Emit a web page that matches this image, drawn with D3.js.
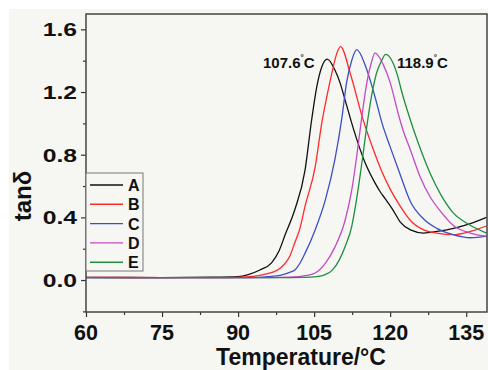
<!DOCTYPE html>
<html>
<head>
<meta charset="utf-8">
<script src="https://cdn.jsdelivr.net/npm/d3@7"></script>
<style>
  body { margin: 0; background: #fff; }
  svg { display: block; font-family: "Liberation Sans", Arial, sans-serif; font-weight: bold; }
</style>
</head>
<body>
<div id="chart"></div>
<script>
// tan delta vs temperature
const seriesNames = ["A", "B", "C", "D", "E"];
const seriesColors = ["#111111", "#ff2a2a", "#3c4fc6", "#c24bc4", "#1f8f3e"];

const curveA = [[60, 0.017], [75, 0.016], [85, 0.018], [90, 0.022], [92, 0.035], [94.3, 0.064], [96.6, 0.11],
  [98, 0.18], [99.3, 0.29], [101.2, 0.45], [103.2, 0.7], [104.5, 1.02], [105.5, 1.23], [106.5, 1.36],
  [107.6, 1.41], [109.1, 1.34], [110.1, 1.26], [111.1, 1.15], [112.8, 0.96], [115.1, 0.745], [117, 0.62],
  [118, 0.565], [119, 0.52], [120.5, 0.45], [122, 0.37], [124, 0.32], [126.6, 0.3], [129.2, 0.31],
  [132.5, 0.33], [135.8, 0.36], [139, 0.4]];
const curveB = [[60, 0.017], [75, 0.016], [88, 0.016], [91.6, 0.02], [94, 0.028], [96.3, 0.045], [98.3, 0.075],
  [100.3, 0.16], [101.2, 0.24], [102.2, 0.33], [103.2, 0.47], [105.2, 0.72], [106.5, 1.0], [107.5, 1.17],
  [108.5, 1.32], [109.5, 1.45], [110.2, 1.49], [112.2, 1.31], [114.5, 1.04], [116.6, 0.84], [118.4, 0.69],
  [120, 0.58], [122, 0.47], [124, 0.38], [126.6, 0.32], [129.2, 0.3], [132.4, 0.29], [135.8, 0.31], [139, 0.345]];
const curveC = [[60, 0.016], [80, 0.015], [92, 0.016], [96, 0.022], [98.3, 0.03], [100.3, 0.05], [101.2, 0.064],
  [102.2, 0.107], [103.2, 0.17], [105.2, 0.32], [107.2, 0.51], [109.1, 0.77], [110.5, 1.04], [111.4, 1.26],
  [112.4, 1.4], [113.4, 1.47], [115.2, 1.36], [117, 1.17], [118.5, 0.99], [120, 0.85], [122, 0.67],
  [124, 0.5], [126.6, 0.39], [129.2, 0.33], [132.4, 0.29], [135.8, 0.27], [139, 0.28]];
const curveD = [[60, 0.016], [80, 0.015], [96, 0.015], [100, 0.018], [103.6, 0.03], [105.2, 0.045], [107.2, 0.107],
  [109.1, 0.21], [111.1, 0.38], [112.4, 0.57], [113.4, 0.79], [114.4, 1.04], [115.4, 1.26], [116.4, 1.4],
  [117, 1.45], [118.7, 1.37], [120, 1.26], [121.6, 1.06], [122.6, 0.95], [124, 0.83], [125.9, 0.66],
  [127.9, 0.53], [129.9, 0.44], [132.4, 0.35], [135.8, 0.3], [139, 0.28]];
const curveE = [[60, 0.016], [80, 0.015], [98, 0.015], [103, 0.017], [105.5, 0.022], [107.2, 0.035], [108.5, 0.06],
  [110, 0.13], [111.2, 0.22], [112.4, 0.34], [113.3, 0.5], [114.3, 0.72], [115.3, 0.96], [116.3, 1.17],
  [117.3, 1.32], [118.3, 1.4], [119.1, 1.44], [120.5, 1.39], [121.5, 1.3], [122.3, 1.2], [124, 1.02],
  [125.7, 0.86], [127.9, 0.68], [129.9, 0.55], [132.4, 0.43], [135.8, 0.35], [139, 0.3]];
const curves = [curveA, curveB, curveC, curveD, curveE];

const xTicks = [60, 75, 90, 105, 120, 135];
const xMinor = [67.5, 82.5, 97.5, 112.5, 127.5];
const yTicks = [0.0, 0.4, 0.8, 1.2, 1.6];
const yMinor = [-0.2, 0.2, 0.6, 1.0, 1.4];
const peakLabels = [{ text: "107.6", side: "left" }, { text: "118.9", side: "right" }];

const width = 488, height = 370;
const margin = { top: 14, right: 1, bottom: 58, left: 86 };

const svg = d3.select("#chart").append("svg")
  .attr("width", width).attr("height", height);

svg.append("rect").attr("x", 9).attr("y", 9).attr("width", width - 9).attr("height", height - 9)
  .attr("fill", "#f6f6f3");

const x = d3.scaleLinear().domain([60, 139.1]).range([margin.left, width - margin.right]);
const y = d3.scaleLinear().domain([-0.204, 1.698]).range([height - margin.bottom, margin.top]);

// minor + major ticks
const gx = svg.append("g").attr("transform", `translate(0,${y.range()[0]})`);
gx.call(d3.axisBottom(x).tickValues(xTicks).tickSize(5).tickFormat(""));
gx.append("g").call(d3.axisBottom(x).tickValues(xMinor).tickSize(3).tickFormat(""));
const gy = svg.append("g").attr("transform", `translate(${x.range()[0]},0)`);
gy.call(d3.axisLeft(y).tickValues(yTicks).tickSize(5).tickFormat(""));
gy.append("g").call(d3.axisLeft(y).tickValues(yMinor).tickSize(3).tickFormat(""));
svg.selectAll(".domain").remove();
svg.selectAll(".tick line").attr("stroke", "#333").attr("stroke-width", 1.2);

// tick labels (y ones stretched a bit horizontally like the source image)
svg.append("g").selectAll("text").data(xTicks).join("text")
  .attr("x", d => x(d)).attr("y", 339.5)
  .attr("text-anchor", "middle").attr("font-size", 21.5).attr("fill", "#111")
  .text(d => d);
svg.append("g").selectAll("text").data(yTicks).join("text")
  .attr("text-anchor", "end").attr("font-size", 19).attr("fill", "#111")
  .attr("transform", d => `translate(77,${y(d) + 7}) scale(1.3,1)`)
  .text(d => d.toFixed(1));

// axis titles
svg.append("text").attr("x", 301).attr("y", 365).attr("text-anchor", "middle")
  .attr("font-size", 23).attr("fill", "#111").text("Temperature/°C");
svg.append("text").attr("transform", "translate(31,196) rotate(-90)").attr("text-anchor", "middle")
  .attr("font-size", 24).attr("fill", "#111").text("tanδ");

// curves
const line = d3.line().x(d => x(d[0])).y(d => y(d[1])).curve(d3.curveMonotoneX);
svg.append("clipPath").attr("id", "plot-clip").append("rect")
  .attr("x", x.range()[0]).attr("y", y.range()[1])
  .attr("width", x.range()[1] - x.range()[0]).attr("height", y.range()[0] - y.range()[1]);
svg.append("g").attr("clip-path", "url(#plot-clip)")
  .selectAll("path").data(curves).join("path")
  .attr("d", line).attr("fill", "none")
  .attr("stroke", (d, i) => seriesColors[i]).attr("stroke-width", 1.3)
  .attr("stroke-linejoin", "round");

// frame
svg.append("rect").attr("x", x.range()[0]).attr("y", y.range()[1])
  .attr("width", x.range()[1] - x.range()[0]).attr("height", y.range()[0] - y.range()[1])
  .attr("fill", "none").attr("stroke", "#444").attr("stroke-width", 1.5);

// peak annotations
const ann = svg.append("g").selectAll("text").data(peakLabels).join("text")
  .attr("x", d => d.side === "left" ? 263 : 397).attr("y", 68)
  .attr("font-size", 15).attr("fill", "#111");
ann.append("tspan").text(d => d.text);
ann.append("tspan").attr("font-size", 8).attr("dy", -8).text("°");
ann.append("tspan").attr("dy", 8).text("C");

// legend
const legend = svg.append("g");
legend.append("rect").attr("x", 86).attr("y", 173).attr("width", 57).attr("height", 98)
  .attr("fill", "#f6f6f3").attr("stroke", "#777").attr("stroke-width", 1);
const items = legend.selectAll("g.item").data(seriesNames).join("g")
  .attr("class", "item")
  .attr("transform", (d, i) => `translate(0,${185 + i * 19.3})`);
items.append("line").attr("x1", 90).attr("x2", 123)
  .attr("stroke", (d, i) => seriesColors[i]).attr("stroke-width", 1.4);
items.append("text").attr("x", 128).attr("y", 6).attr("font-size", 16).attr("fill", "#111").text(d => d);
</script>
</body>
</html>
